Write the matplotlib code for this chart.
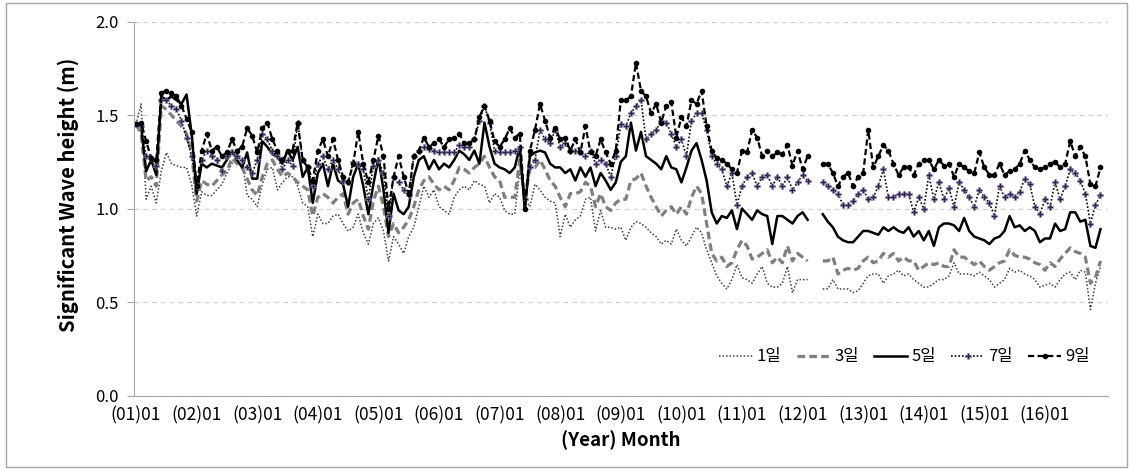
import numpy as np
import matplotlib

matplotlib.use("Agg")
import matplotlib.pyplot as plt
from matplotlib.patches import Rectangle
from matplotlib.lines import Line2D

plt.rcParams["font.family"] = ["Noto Sans CJK KR", "DejaVu Sans"]

nan = np.nan

# monthly significant wave height, 2001-01 .. 2016-12
years = [f"({y:02d})01" for y in range(1, 17)]

d1 = [1.45, 1.56, 1.05, 1.12, 1.03, 1.20, 1.30, 1.24, 1.23, 1.22, 1.22, 1.13,
      0.96, 1.09, 1.07, 1.07, 1.10, 1.13, 1.19, 1.24, 1.28, 1.26, 1.07, 1.05,
      1.01, 1.13, 1.21, 1.22, 1.10, 1.14, 1.17, 1.17, 1.12, 1.03, 1.01, 0.85,
      0.97, 0.92, 0.92, 0.96, 0.97, 0.92, 0.88, 0.90, 0.97, 0.87, 0.81, 0.92,
      0.95, 0.88, 0.72, 0.85, 0.81, 0.76, 0.85, 0.90, 1.01, 1.12, 1.06, 1.10,
      1.01, 0.99, 0.97, 1.06, 1.10, 1.12, 1.10, 1.15, 1.13, 1.12, 1.03, 1.08,
      1.06, 0.99, 0.97, 0.97, 1.21, 1.05, 1.01, 1.13, 1.10, 1.06, 1.04, 1.03,
      0.85, 0.97, 0.90, 0.94, 0.96, 1.05, 1.06, 0.88, 0.99, 0.90, 0.90, 0.89,
      0.90, 0.83, 0.90, 0.93, 0.92, 0.90, 0.87, 0.85, 0.81, 0.83, 0.81, 0.89,
      0.83, 0.80, 0.85, 0.90, 0.87, 0.78, 0.71, 0.64, 0.60, 0.57, 0.62, 0.70,
      0.63, 0.62, 0.60, 0.65, 0.69, 0.60, 0.58, 0.58, 0.60, 0.69, 0.55, 0.62,
      0.62, 0.62, nan, nan, 0.57, 0.57, 0.62, 0.57, 0.57, 0.57, 0.55, 0.56,
      0.60, 0.64, 0.65, 0.65, 0.60, 0.64, 0.65, 0.67, 0.64, 0.65, 0.62, 0.60,
      0.58, 0.58, 0.60, 0.62, 0.62, 0.64, 0.71, 0.65, 0.65, 0.65, 0.64, 0.66,
      0.64, 0.62, 0.58, 0.60, 0.62, 0.68, 0.66, 0.67, 0.65, 0.64, 0.62, 0.58,
      0.59, 0.60, 0.58, 0.62, 0.65, 0.66, 0.62, 0.67, 0.66, 0.46, 0.60, 0.69]

d3 = [1.45, 1.40, 1.15, 1.17, 1.12, 1.55, 1.53, 1.50, 1.47, 1.44, 1.40, 1.30,
      1.04, 1.15, 1.13, 1.12, 1.15, 1.18, 1.20, 1.27, 1.24, 1.22, 1.16, 1.10,
      1.07, 1.17, 1.24, 1.26, 1.21, 1.17, 1.19, 1.17, 1.14, 1.12, 1.10, 0.96,
      1.06, 1.08, 1.06, 1.03, 1.06, 1.08, 0.97, 1.03, 1.05, 0.96, 0.89, 1.04,
      1.12, 1.01, 0.85, 0.92, 0.87, 0.90, 0.94, 1.01, 1.10, 1.15, 1.17, 1.13,
      1.10, 1.12, 1.10, 1.15, 1.22, 1.21, 1.19, 1.22, 1.24, 1.28, 1.22, 1.17,
      1.15, 1.06, 1.06, 1.06, 1.26, 1.05, 1.22, 1.22, 1.26, 1.21, 1.15, 1.12,
      1.06, 1.01, 1.08, 1.08, 1.09, 1.14, 1.12, 1.01, 1.08, 1.01, 0.99, 1.03,
      1.05, 1.05, 1.15, 1.16, 1.19, 1.12, 1.06, 1.01, 0.96, 0.99, 1.01, 0.97,
      1.01, 0.97, 1.06, 1.12, 1.08, 0.92, 0.76, 0.72, 0.74, 0.69, 0.71, 0.78,
      0.83, 0.80, 0.73, 0.74, 0.76, 0.78, 0.71, 0.74, 0.71, 0.80, 0.72, 0.76,
      0.74, 0.72, nan, nan, 0.72, 0.72, 0.74, 0.65, 0.67, 0.68, 0.67, 0.68,
      0.72, 0.74, 0.71, 0.72, 0.76, 0.74, 0.76, 0.72, 0.74, 0.72, 0.72, 0.67,
      0.69, 0.71, 0.70, 0.71, 0.69, 0.69, 0.78, 0.74, 0.74, 0.72, 0.70, 0.72,
      0.69, 0.67, 0.69, 0.71, 0.72, 0.78, 0.75, 0.74, 0.74, 0.73, 0.71, 0.70,
      0.67, 0.71, 0.69, 0.73, 0.76, 0.79, 0.77, 0.76, 0.74, 0.60, 0.63, 0.72]

d5 = [1.45, 1.44, 1.20, 1.26, 1.18, 1.60, 1.58, 1.60, 1.58, 1.56, 1.61, 1.40,
      1.08, 1.24, 1.22, 1.24, 1.23, 1.22, 1.26, 1.31, 1.26, 1.22, 1.30, 1.16,
      1.16, 1.36, 1.33, 1.29, 1.28, 1.24, 1.31, 1.26, 1.33, 1.17, 1.22, 1.03,
      1.19, 1.24, 1.12, 1.24, 1.15, 1.13, 1.01, 1.17, 1.24, 1.12, 0.97, 1.13,
      1.27, 1.10, 0.87, 1.08, 0.99, 0.97, 1.01, 1.17, 1.26, 1.28, 1.21, 1.26,
      1.21, 1.24, 1.22, 1.26, 1.31, 1.29, 1.26, 1.31, 1.24, 1.46, 1.33, 1.24,
      1.22, 1.21, 1.19, 1.22, 1.33, 0.99, 1.28, 1.30, 1.31, 1.30, 1.24, 1.22,
      1.22, 1.19, 1.21, 1.15, 1.22, 1.17, 1.22, 1.12, 1.19, 1.15, 1.10, 1.14,
      1.25, 1.28, 1.46, 1.31, 1.41, 1.28, 1.26, 1.24, 1.21, 1.28, 1.22, 1.21,
      1.14, 1.22, 1.31, 1.35, 1.26, 1.15, 0.98, 0.92, 0.96, 0.95, 0.99, 0.89,
      1.00, 0.97, 0.94, 0.99, 0.97, 0.96, 0.81, 0.96, 0.96, 0.94, 0.92, 0.96,
      0.98, 0.94, nan, nan, 0.97, 0.93, 0.90, 0.85, 0.83, 0.82, 0.82, 0.85,
      0.88, 0.88, 0.87, 0.86, 0.90, 0.88, 0.90, 0.88, 0.87, 0.90, 0.85, 0.88,
      0.83, 0.88, 0.80, 0.90, 0.92, 0.92, 0.91, 0.88, 0.95, 0.88, 0.85, 0.84,
      0.83, 0.81, 0.84, 0.85, 0.88, 0.96, 0.90, 0.91, 0.88, 0.90, 0.88, 0.82,
      0.84, 0.84, 0.92, 0.88, 0.89, 0.98, 0.98, 0.93, 0.94, 0.80, 0.79, 0.89]

d7 = [1.45, 1.44, 1.28, 1.27, 1.23, 1.58, 1.58, 1.55, 1.53, 1.47, 1.38, 1.28,
      1.12, 1.26, 1.31, 1.28, 1.26, 1.20, 1.28, 1.30, 1.28, 1.26, 1.22, 1.19,
      1.26, 1.40, 1.37, 1.31, 1.28, 1.21, 1.26, 1.23, 1.46, 1.26, 1.22, 1.12,
      1.24, 1.28, 1.21, 1.26, 1.21, 1.15, 1.14, 1.25, 1.24, 1.21, 1.05, 1.23,
      1.26, 1.19, 0.96, 1.17, 1.14, 1.10, 1.07, 1.28, 1.31, 1.33, 1.32, 1.31,
      1.30, 1.30, 1.30, 1.30, 1.34, 1.33, 1.33, 1.37, 1.47, 1.55, 1.46, 1.31,
      1.30, 1.30, 1.30, 1.31, 1.33, 1.05, 1.22, 1.26, 1.42, 1.37, 1.35, 1.42,
      1.33, 1.35, 1.31, 1.31, 1.30, 1.28, 1.31, 1.24, 1.26, 1.24, 1.17, 1.28,
      1.45, 1.44, 1.51, 1.55, 1.58, 1.37, 1.40, 1.42, 1.47, 1.46, 1.40, 1.33,
      1.37, 1.28, 1.47, 1.51, 1.51, 1.42, 1.28, 1.24, 1.21, 1.12, 1.19, 1.02,
      1.12, 1.17, 1.19, 1.12, 1.17, 1.18, 1.12, 1.17, 1.12, 1.17, 1.10, 1.14,
      1.18, 1.15, nan, nan, 1.14, 1.12, 1.10, 1.08, 1.02, 1.02, 1.04, 1.08,
      1.10, 1.05, 1.06, 1.12, 1.21, 1.06, 1.06, 1.08, 1.08, 1.08, 0.98, 1.06,
      1.00, 1.18, 1.05, 1.14, 1.05, 1.11, 1.01, 1.14, 1.10, 1.06, 1.01, 1.10,
      1.06, 1.03, 0.96, 1.12, 1.06, 1.08, 1.06, 1.09, 1.16, 1.13, 1.01, 0.97,
      1.05, 1.01, 1.14, 1.05, 1.12, 1.21, 1.19, 1.15, 1.08, 0.92, 1.02, 1.07]

d9 = [1.45, 1.46, 1.36, 1.27, 1.26, 1.62, 1.63, 1.62, 1.60, 1.55, 1.48, 1.41,
      1.12, 1.31, 1.40, 1.31, 1.33, 1.28, 1.30, 1.37, 1.31, 1.33, 1.43, 1.39,
      1.30, 1.43, 1.46, 1.37, 1.31, 1.26, 1.31, 1.31, 1.46, 1.26, 1.22, 1.15,
      1.31, 1.37, 1.28, 1.37, 1.26, 1.17, 1.14, 1.24, 1.41, 1.24, 1.14, 1.26,
      1.39, 1.28, 1.00, 1.17, 1.28, 1.17, 1.08, 1.28, 1.31, 1.38, 1.33, 1.35,
      1.37, 1.33, 1.37, 1.38, 1.40, 1.35, 1.35, 1.37, 1.49, 1.55, 1.47, 1.36,
      1.33, 1.37, 1.43, 1.38, 1.40, 1.00, 1.31, 1.42, 1.56, 1.47, 1.38, 1.43,
      1.37, 1.38, 1.31, 1.37, 1.30, 1.44, 1.30, 1.28, 1.37, 1.30, 1.24, 1.31,
      1.58, 1.58, 1.60, 1.78, 1.63, 1.60, 1.51, 1.56, 1.46, 1.55, 1.57, 1.38,
      1.49, 1.44, 1.58, 1.56, 1.63, 1.44, 1.31, 1.27, 1.26, 1.24, 1.21, 1.19,
      1.31, 1.30, 1.42, 1.38, 1.28, 1.31, 1.28, 1.30, 1.29, 1.34, 1.23, 1.31,
      1.21, 1.28, nan, nan, 1.24, 1.24, 1.19, 1.12, 1.17, 1.19, 1.12, 1.17,
      1.19, 1.42, 1.22, 1.28, 1.34, 1.31, 1.24, 1.18, 1.22, 1.22, 1.18, 1.24,
      1.26, 1.26, 1.21, 1.26, 1.23, 1.24, 1.17, 1.24, 1.22, 1.20, 1.19, 1.30,
      1.22, 1.18, 1.18, 1.24, 1.18, 1.20, 1.21, 1.24, 1.31, 1.26, 1.22, 1.21,
      1.22, 1.24, 1.25, 1.22, 1.24, 1.36, 1.28, 1.33, 1.28, 1.13, 1.12, 1.22]

labels = ["1일", "3일", "5일", "7일", "9일"]

x = np.arange(len(d1))

fig = plt.figure(figsize=(11.33, 4.70), dpi=100)
ax = fig.add_axes([0.1183, 0.1585, 0.8597, 0.7955])

# outer chart border (Excel style)
fig.patches.append(Rectangle((0.005, 0.006), 0.990, 0.988, transform=fig.transFigure,
                             fill=False, edgecolor="#a6a6a6", linewidth=1.0))

sty1 = dict(color="#3c3c3c", lw=1.1, linestyle=(0, (1, 1.3)))
sty3 = dict(color="#7f7f7f", lw=2.3, dashes=(2.4, 1.3))
sty5 = dict(color="black", lw=1.8)
sty7 = dict(color="black", lw=1.2, linestyle=(0, (1, 1.2)), marker="P", ms=3.8,
            mfc="#2d2445", mec="#9d8cc8", mew=0.4)
sty9 = dict(color="black", lw=1.6, dashes=(2.8, 1.5), marker="o", ms=3.0,
            mfc="black", mec="black")

ax.plot(x, d1, **sty1)
ax.plot(x, d3, **sty3)
ax.plot(x, d5, **sty5)
ax.plot(x, d7, **sty7)
ax.plot(x, d9, **sty9)

ax.set_xlim(-0.4, 192.5)
ax.set_ylim(0, 2.0)
ax.set_yticks([0, 0.5, 1.0, 1.5, 2.0])
ax.set_yticklabels(["0.0", "0.5", "1.0", "1.5", "2.0"])
ax.set_xticks(np.arange(0, 192, 12))
ax.set_xticklabels(years)

ax.grid(axis="y", color="#d0d0d0", linestyle=(0, (4, 3)), linewidth=0.9)
ax.set_axisbelow(True)
for s in ["top", "right"]:
    ax.spines[s].set_visible(False)
for s in ["left", "bottom"]:
    ax.spines[s].set_color("#a6a6a6")
ax.tick_params(axis="y", length=5, color="#a6a6a6", labelsize=12, pad=6)
ax.tick_params(axis="x", length=0, labelsize=12.5, pad=8)

ax.set_ylabel("Significant Wave height (m)", fontsize=14.5, fontweight="bold")
ax.yaxis.set_label_coords(-0.056, 0.537)
ax.set_xlabel("(Year) Month", fontsize=13.5, fontweight="bold", labelpad=4)

handles = [Line2D([], [], **s) for s in (sty1, sty3, sty5, sty7, sty9)]
ax.legend(handles, labels, loc="center right", bbox_to_anchor=(0.997, 0.103), ncol=5,
          frameon=False, fontsize=12, handlelength=2.0, handletextpad=0.25,
          columnspacing=0.9)

fig.savefig("out.png", dpi=100)
